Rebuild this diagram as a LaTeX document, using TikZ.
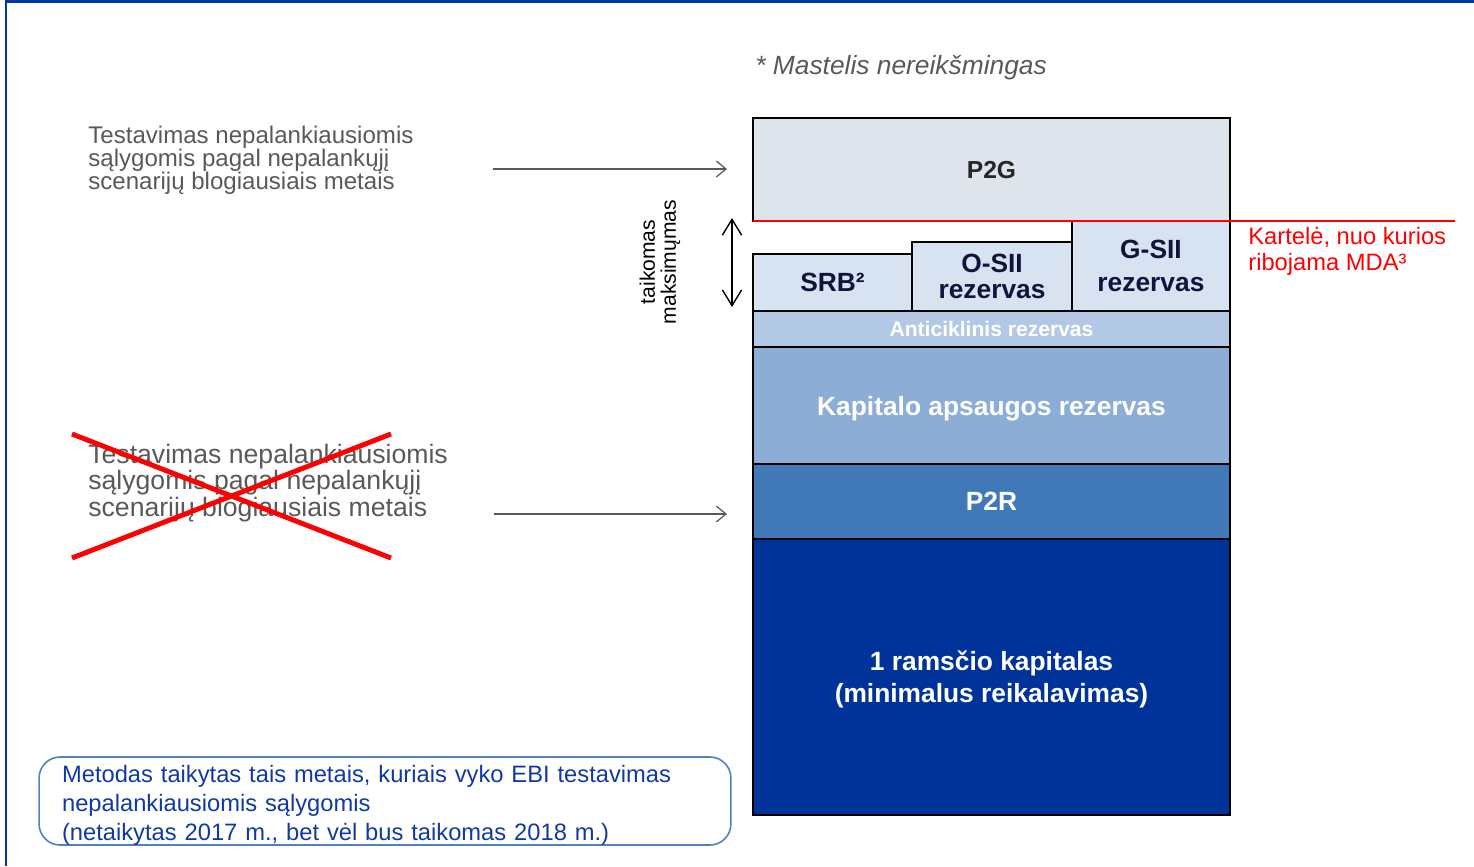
\documentclass[tikz,border=0pt]{standalone}
\usepackage{fontspec}
\setmainfont{Liberation Sans}
\usetikzlibrary{arrows.meta, positioning}
\definecolor{frameblue}{RGB}{0,56,168}
\definecolor{txtgray}{RGB}{89,89,89}
\definecolor{pgfill}{RGB}{222,228,236}
\definecolor{pgtxt}{RGB}{38,38,38}
\definecolor{buffill}{RGB}{216,227,241}
\definecolor{ccyfill}{RGB}{178,200,228}
\definecolor{ccbfill}{RGB}{139,173,214}
\definecolor{prfill}{RGB}{65,120,184}
\definecolor{tierfill}{RGB}{0,51,153}
\definecolor{navytxt}{RGB}{16,20,60}
\definecolor{noteborder}{RGB}{79,129,189}
\definecolor{notetxt}{RGB}{17,58,160}
\tikzset{
    layer/.style={draw, line width=1.1pt, inner sep=0pt, outer sep=0pt, minimum width=9.54cm, text depth=0pt, align=center, text=white, font=\bfseries\fontsize{15}{18}\selectfont},
    bufbox/.style={layer, fill=buffill, text=navytxt, font=\bfseries\fontsize{15}{15}\selectfont},
    graytext/.style={inner sep=0pt, align=left, text=txtgray, anchor=west},
    grayarrow/.style={-{Straight Barb[length=5.5pt,width=9pt]}, draw=txtgray, line width=0.7pt},
}

\begin{document}
\begin{tikzpicture}[x=0.02cm, y=-0.02cm]
    \tikzset{
      twohead/.style={{Straight Barb[length=9pt,width=11pt]}-{Straight Barb[length=9pt,width=11pt]}, line width=0.8pt},
      crossline/.style={red, line width=2.8pt},
      capline/.style={red, line width=1.1pt}
    }
    \useasboundingbox (0,0) rectangle (1474,866);
    \draw[frameblue, line width=1.7pt] (6,866) -- (6,1.5) -- (1474,1.5);

    \node[anchor=west, inner sep=0pt, text=txtgray, font=\itshape\fontsize{15}{18}\selectfont] (scale) at (755,68) {* Mastelis nereikšmingas};

    % capital stack
    \node[layer, fill=pgfill, text=pgtxt, minimum height=2.06cm, font=\bfseries\fontsize{14}{16}\selectfont] (p2g) at (991.5,169.5) {P2G};
    \node[layer, fill=ccyfill, minimum height=0.72cm, font=\bfseries\fontsize{12}{14}\selectfont] (anti) at (991.5,329) {Anticiklinis rezervas};
    \node[layer, fill=ccbfill, minimum height=2.34cm, below=0pt of anti] (kap) {Kapitalo apsaugos rezervas};
    \node[layer, fill=prfill, minimum height=1.5cm, below=0pt of kap] (p2r) {P2R};
    \node[layer, fill=tierfill, minimum height=5.52cm, below=0pt of p2r, font=\bfseries\fontsize{15}{18.2}\selectfont] (tier1) {1 ramsčio kapitalas\\(minimalus reikalavimas)};

    \node[bufbox, minimum width=3.18cm, minimum height=1.14cm, anchor=south west] (srb) at (anti.north west) {SRB²};
    \node[bufbox, minimum width=3.2cm, minimum height=1.38cm, right=0pt of srb.south east, anchor=south west] (osii) {O-SII\\rezervas};
    \node[bufbox, minimum width=3.16cm, minimum height=1.8cm, right=0pt of osii.south east, anchor=south west, font=\bfseries\fontsize{15}{18.8}\selectfont] (gsii) {G-SII\\rezervas};

    % MDA threshold
    \coordinate (capend) at (1455,221);
    \draw[capline] (p2g.south west) -- (capend);
    \node[anchor=west, inner sep=0pt, align=left, text=red, font=\fontsize{13.5}{14.7}\selectfont] (mda) at (1248,251) {Kartelė, nuo kurios\\ribojama MDA³};

    % applied maximum
    \coordinate (maxtop) at (732,218);
    \coordinate (maxbot) at (732,307);
    \draw[twohead] (maxtop) -- (maxbot);
    \node[rotate=90, align=center, inner sep=0pt, font=\fontsize{12}{12}\selectfont] (maxlbl) at (660,262) {taikomas\\maksimųmas};

    % stress tests
    \node[graytext, font=\fontsize{13.7}{13.2}\selectfont] (stress1) at (88,160) {Testavimas nepalankiausiomis\\sąlygomis pagal nepalankųjį\\scenarijų blogiausiais metais};
    \coordinate (s1start) at (493,169);
    \coordinate (s1end) at (727,169);
    \draw[grayarrow] (s1start) -- (s1end);

    \node[graytext, font=\fontsize{15.15}{14.9}\selectfont] (stress2) at (88,483) {Testavimas nepalankiausiomis\\sąlygomis pagal nepalankųjį\\scenarijų blogiausiais metais};
    \coordinate (s2start) at (494,514);
    \coordinate (s2end) at (727,514);
    \draw[grayarrow] (s2start) -- (s2end);
    \draw[crossline] (72,434) -- (391,558);
    \draw[crossline] (72,558) -- (391,434);

    % note
    \node[draw=noteborder, line width=0.9pt, rounded corners=12pt, minimum width=13.84cm, minimum height=1.76cm, text width=12.92cm, inner xsep=0.46cm, inner ysep=0pt, align=left, text=notetxt, font=\fontsize{13.5}{16.4}\selectfont] (note) at (385,801) {\rule{0pt}{14.5pt}Metodas taikytas tais metais, kuriais vyko EBI testavimas\\nepalankiausiomis sąlygomis\\(netaikytas 2017 m., bet vėl bus taikomas 2018 m.)};
\end{tikzpicture}
\end{document}
